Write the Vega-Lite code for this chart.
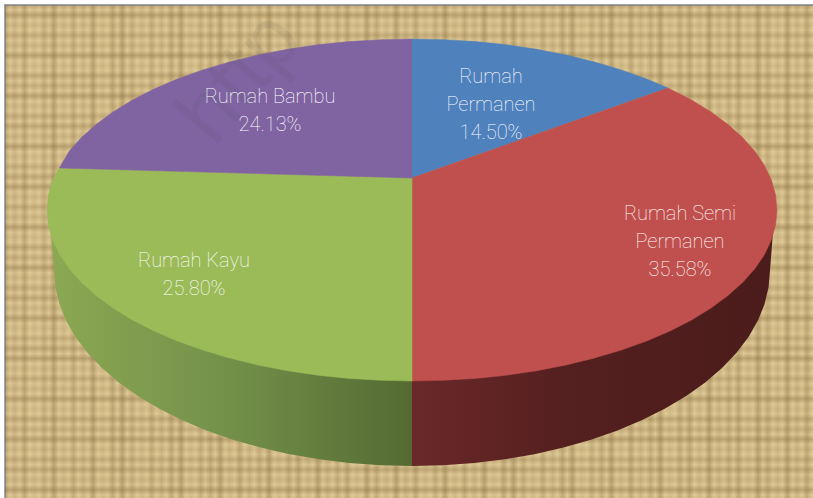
{"$schema":"https://vega.github.io/schema/vega-lite/v6.json","width":813,"height":498,"padding":0,"autosize":{"type":"fit","contains":"padding"},"background":"#ffffff","view":{"stroke":null},
"datasets":{
"frame":[{"x":5,"x2":820,"y":5,"y2":510}],
"mark":[{"label":"http","x":240,"y":78}],
"shares":[{"label":"Rumah\nPermanen\n14.50%","share":14.5,"x":491,"y":77},{"label":"Rumah Semi\nPermanen\n35.58%","share":35.58,"x":680,"y":214},{"label":"Rumah Kayu\n25.80%","share":25.8,"x":194,"y":261},{"label":"Rumah Bambu\n24.13%","share":24.13,"x":270,"y":97}],
"wallGreen":[{"i":0,"x":412,"y":300},{"i":1,"x":412,"y":466},{"i":2,"x":380.9,"y":465.2},{"i":3,"x":349.7,"y":463},{"i":4,"x":319.3,"y":459.3},{"i":5,"x":289.6,"y":454.2},{"i":6,"x":260.6,"y":447.6},{"i":7,"x":233,"y":439.7},{"i":8,"x":206.5,"y":430.5},{"i":9,"x":181.8,"y":420.1},{"i":10,"x":158.9,"y":408.6},{"i":11,"x":137.8,"y":396},{"i":12,"x":118.8,"y":382.5},{"i":13,"x":102,"y":368},{"i":14,"x":87.7,"y":352.9},{"i":15,"x":75.5,"y":337},{"i":16,"x":66.2,"y":320.8},{"i":17,"x":59.4,"y":304.1},{"i":18,"x":55.4,"y":287.1},{"i":19,"x":54,"y":270},{"i":20,"x":51,"y":232}],
"wallRed":[{"i":0,"x":412,"y":300},{"i":1,"x":773,"y":232},{"i":2,"x":770,"y":270},{"i":3,"x":768.6,"y":287.1},{"i":4,"x":764.6,"y":304.1},{"i":5,"x":757.8,"y":320.8},{"i":6,"x":748.5,"y":337},{"i":7,"x":736.3,"y":352.9},{"i":8,"x":722,"y":368},{"i":9,"x":705.2,"y":382.5},{"i":10,"x":686.2,"y":396},{"i":11,"x":665.1,"y":408.6},{"i":12,"x":642.2,"y":420.1},{"i":13,"x":617.5,"y":430.5},{"i":14,"x":591,"y":439.7},{"i":15,"x":563.4,"y":447.6},{"i":16,"x":534.4,"y":454.2},{"i":17,"x":504.7,"y":459.3},{"i":18,"x":474.3,"y":463},{"i":19,"x":443.1,"y":465.2},{"i":20,"x":412,"y":466}],
"slices":[
{"s":"Rumah Permanen","i":0,"x":412,"y":178},{"s":"Rumah Permanen","i":1,"x":412,"y":39},{"s":"Rumah Permanen","i":2,"x":443.8,"y":39.7},{"s":"Rumah Permanen","i":3,"x":475.4,"y":41.6},{"s":"Rumah Permanen","i":4,"x":506.5,"y":44.8},{"s":"Rumah Permanen","i":5,"x":536.8,"y":49.3},{"s":"Rumah Permanen","i":6,"x":566.3,"y":55},{"s":"Rumah Permanen","i":7,"x":594.5,"y":62},{"s":"Rumah Permanen","i":8,"x":621.4,"y":69.9},{"s":"Rumah Permanen","i":9,"x":646.7,"y":79},{"s":"Rumah Permanen","i":10,"x":668,"y":88},
{"s":"Rumah Semi Permanen","i":0,"x":412,"y":178},{"s":"Rumah Semi Permanen","i":1,"x":668,"y":88},{"s":"Rumah Semi Permanen","i":2,"x":691.6,"y":100},{"s":"Rumah Semi Permanen","i":3,"x":711,"y":111.9},{"s":"Rumah Semi Permanen","i":4,"x":728,"y":124.5},{"s":"Rumah Semi Permanen","i":5,"x":742.8,"y":137.7},{"s":"Rumah Semi Permanen","i":6,"x":755,"y":151.5},{"s":"Rumah Semi Permanen","i":7,"x":764.6,"y":165.7},{"s":"Rumah Semi Permanen","i":8,"x":771.5,"y":180.3},{"s":"Rumah Semi Permanen","i":9,"x":775.6,"y":195.1},{"s":"Rumah Semi Permanen","i":10,"x":777,"y":210},{"s":"Rumah Semi Permanen","i":11,"x":775.6,"y":224.9},{"s":"Rumah Semi Permanen","i":12,"x":771.5,"y":239.7},{"s":"Rumah Semi Permanen","i":13,"x":764.6,"y":254.3},{"s":"Rumah Semi Permanen","i":14,"x":755,"y":268.5},{"s":"Rumah Semi Permanen","i":15,"x":742.8,"y":282.3},{"s":"Rumah Semi Permanen","i":16,"x":728,"y":295.5},{"s":"Rumah Semi Permanen","i":17,"x":711,"y":308.1},{"s":"Rumah Semi Permanen","i":18,"x":691.6,"y":320},{"s":"Rumah Semi Permanen","i":19,"x":670.1,"y":330.9},{"s":"Rumah Semi Permanen","i":20,"x":646.7,"y":341},{"s":"Rumah Semi Permanen","i":21,"x":621.4,"y":350.1},{"s":"Rumah Semi Permanen","i":22,"x":594.5,"y":358},{"s":"Rumah Semi Permanen","i":23,"x":566.3,"y":365},{"s":"Rumah Semi Permanen","i":24,"x":536.8,"y":370.7},{"s":"Rumah Semi Permanen","i":25,"x":506.5,"y":375.2},{"s":"Rumah Semi Permanen","i":26,"x":475.4,"y":378.4},{"s":"Rumah Semi Permanen","i":27,"x":443.8,"y":380.3},{"s":"Rumah Semi Permanen","i":28,"x":412,"y":381},
{"s":"Rumah Kayu","i":0,"x":412,"y":178},{"s":"Rumah Kayu","i":1,"x":412,"y":381},{"s":"Rumah Kayu","i":2,"x":380.2,"y":380.3},{"s":"Rumah Kayu","i":3,"x":348.6,"y":378.4},{"s":"Rumah Kayu","i":4,"x":317.5,"y":375.2},{"s":"Rumah Kayu","i":5,"x":287.2,"y":370.7},{"s":"Rumah Kayu","i":6,"x":257.7,"y":365},{"s":"Rumah Kayu","i":7,"x":229.5,"y":358},{"s":"Rumah Kayu","i":8,"x":202.6,"y":350.1},{"s":"Rumah Kayu","i":9,"x":177.3,"y":341},{"s":"Rumah Kayu","i":10,"x":153.9,"y":330.9},{"s":"Rumah Kayu","i":11,"x":132.4,"y":320},{"s":"Rumah Kayu","i":12,"x":113,"y":308.1},{"s":"Rumah Kayu","i":13,"x":96,"y":295.5},{"s":"Rumah Kayu","i":14,"x":81.2,"y":282.3},{"s":"Rumah Kayu","i":15,"x":69,"y":268.5},{"s":"Rumah Kayu","i":16,"x":59.4,"y":254.3},{"s":"Rumah Kayu","i":17,"x":52.5,"y":239.7},{"s":"Rumah Kayu","i":18,"x":48.4,"y":224.9},{"s":"Rumah Kayu","i":19,"x":47,"y":210},{"s":"Rumah Kayu","i":20,"x":48.4,"y":195.1},{"s":"Rumah Kayu","i":21,"x":52.5,"y":180.3},{"s":"Rumah Kayu","i":22,"x":59.4,"y":168},
{"s":"Rumah Bambu","i":0,"x":412,"y":178},{"s":"Rumah Bambu","i":1,"x":59.4,"y":168},{"s":"Rumah Bambu","i":2,"x":69,"y":151.5},{"s":"Rumah Bambu","i":3,"x":81.2,"y":137.7},{"s":"Rumah Bambu","i":4,"x":96,"y":124.5},{"s":"Rumah Bambu","i":5,"x":113,"y":111.9},{"s":"Rumah Bambu","i":6,"x":132.4,"y":100},{"s":"Rumah Bambu","i":7,"x":153.9,"y":89.1},{"s":"Rumah Bambu","i":8,"x":177.3,"y":79},{"s":"Rumah Bambu","i":9,"x":202.6,"y":69.9},{"s":"Rumah Bambu","i":10,"x":229.5,"y":62},{"s":"Rumah Bambu","i":11,"x":257.7,"y":55},{"s":"Rumah Bambu","i":12,"x":287.2,"y":49.3},{"s":"Rumah Bambu","i":13,"x":317.5,"y":44.8},{"s":"Rumah Bambu","i":14,"x":348.6,"y":41.6},{"s":"Rumah Bambu","i":15,"x":380.2,"y":39.7},{"s":"Rumah Bambu","i":16,"x":412,"y":39}
]},
"encoding":{
"x":{"field":"x","type":"quantitative","axis":null,"scale":{"domain":[0,813],"nice":false,"zero":false}},
"y":{"field":"y","type":"quantitative","axis":null,"scale":{"domain":[498,0],"nice":false,"zero":false}}
},
"layer":[
{"data":{"name":"frame"},"mark":{"type":"rect","clip":true,"fill":"#e0ca96","stroke":"#a0a4a8","strokeWidth":2},"encoding":{"x2":{"field":"x2"},"y2":{"field":"y2"}}},
{"data":{"name":"frame"},"mark":{"type":"rect","clip":true,"fill":{"gradient":"linear","x1":0,"x2":1,"y1":0,"y2":0,"stops":[
{"offset":0,"color":"#6b4f224d"},{"offset":0.006,"color":"#6b4f2200"},{"offset":0.012,"color":"#6b4f2226"},{"offset":0.018,"color":"#6b4f2200"},{"offset":0.024,"color":"#6b4f2240"},{"offset":0.03,"color":"#6b4f2200"},{"offset":0.036,"color":"#6b4f221a"},{"offset":0.042,"color":"#6b4f2200"},
{"offset":0.048,"color":"#6b4f2233"},{"offset":0.054,"color":"#6b4f2200"},{"offset":0.06,"color":"#6b4f224d"},{"offset":0.066,"color":"#6b4f2200"},{"offset":0.072,"color":"#6b4f221f"},{"offset":0.078,"color":"#6b4f2200"},{"offset":0.084,"color":"#6b4f2238"},{"offset":0.09,"color":"#6b4f2200"},
{"offset":0.096,"color":"#6b4f2226"},{"offset":0.102,"color":"#6b4f2200"},{"offset":0.108,"color":"#6b4f224d"},{"offset":0.114,"color":"#6b4f2200"},{"offset":0.12,"color":"#6b4f221a"},{"offset":0.126,"color":"#6b4f2200"},{"offset":0.132,"color":"#6b4f2240"},{"offset":0.138,"color":"#6b4f2200"},
{"offset":0.144,"color":"#6b4f224d"},{"offset":0.15,"color":"#6b4f2200"},{"offset":0.156,"color":"#6b4f2233"},{"offset":0.162,"color":"#6b4f2200"},{"offset":0.168,"color":"#6b4f221f"},{"offset":0.174,"color":"#6b4f2200"},{"offset":0.18,"color":"#6b4f2238"},{"offset":0.186,"color":"#6b4f2200"},
{"offset":0.192,"color":"#6b4f2226"},{"offset":0.198,"color":"#6b4f2200"},{"offset":0.204,"color":"#6b4f2240"},{"offset":0.21,"color":"#6b4f2200"},{"offset":0.216,"color":"#6b4f224d"},{"offset":0.222,"color":"#6b4f2200"},{"offset":0.228,"color":"#6b4f221a"},{"offset":0.234,"color":"#6b4f2200"},
{"offset":0.24,"color":"#6b4f2233"},{"offset":0.246,"color":"#6b4f2200"},{"offset":0.252,"color":"#6b4f2238"},{"offset":0.258,"color":"#6b4f2200"},{"offset":0.264,"color":"#6b4f224d"},{"offset":0.27,"color":"#6b4f2200"},{"offset":0.276,"color":"#6b4f221f"},{"offset":0.282,"color":"#6b4f2200"},
{"offset":0.288,"color":"#6b4f2240"},{"offset":0.294,"color":"#6b4f2200"},{"offset":0.3,"color":"#6b4f2226"},{"offset":0.306,"color":"#6b4f2200"},{"offset":0.312,"color":"#6b4f2233"},{"offset":0.318,"color":"#6b4f2200"},{"offset":0.324,"color":"#6b4f224d"},{"offset":0.33,"color":"#6b4f2200"},
{"offset":0.336,"color":"#6b4f221a"},{"offset":0.342,"color":"#6b4f2200"},{"offset":0.348,"color":"#6b4f2238"},{"offset":0.354,"color":"#6b4f2200"},{"offset":0.36,"color":"#6b4f2240"},{"offset":0.366,"color":"#6b4f2200"},{"offset":0.372,"color":"#6b4f221f"},{"offset":0.378,"color":"#6b4f2200"},
{"offset":0.384,"color":"#6b4f224d"},{"offset":0.39,"color":"#6b4f2200"},{"offset":0.396,"color":"#6b4f2226"},{"offset":0.402,"color":"#6b4f2200"},{"offset":0.408,"color":"#6b4f2233"},{"offset":0.414,"color":"#6b4f2200"},{"offset":0.42,"color":"#6b4f2240"},{"offset":0.426,"color":"#6b4f2200"},
{"offset":0.432,"color":"#6b4f221a"},{"offset":0.438,"color":"#6b4f2200"},{"offset":0.444,"color":"#6b4f224d"},{"offset":0.45,"color":"#6b4f2200"},{"offset":0.456,"color":"#6b4f2238"},{"offset":0.462,"color":"#6b4f2200"},{"offset":0.468,"color":"#6b4f221f"},{"offset":0.474,"color":"#6b4f2200"},
{"offset":0.48,"color":"#6b4f224d"},{"offset":0.486,"color":"#6b4f2200"},{"offset":0.492,"color":"#6b4f2226"},{"offset":0.498,"color":"#6b4f2200"},{"offset":0.504,"color":"#6b4f2240"},{"offset":0.51,"color":"#6b4f2200"},{"offset":0.516,"color":"#6b4f221a"},{"offset":0.522,"color":"#6b4f2200"},
{"offset":0.528,"color":"#6b4f2233"},{"offset":0.534,"color":"#6b4f2200"},{"offset":0.54,"color":"#6b4f224d"},{"offset":0.546,"color":"#6b4f2200"},{"offset":0.552,"color":"#6b4f221f"},{"offset":0.558,"color":"#6b4f2200"},{"offset":0.564,"color":"#6b4f2238"},{"offset":0.57,"color":"#6b4f2200"},
{"offset":0.576,"color":"#6b4f2226"},{"offset":0.582,"color":"#6b4f2200"},{"offset":0.588,"color":"#6b4f224d"},{"offset":0.594,"color":"#6b4f2200"},{"offset":0.6,"color":"#6b4f221a"},{"offset":0.606,"color":"#6b4f2200"},{"offset":0.612,"color":"#6b4f2240"},{"offset":0.618,"color":"#6b4f2200"},
{"offset":0.624,"color":"#6b4f224d"},{"offset":0.63,"color":"#6b4f2200"},{"offset":0.636,"color":"#6b4f2233"},{"offset":0.642,"color":"#6b4f2200"},{"offset":0.648,"color":"#6b4f221f"},{"offset":0.654,"color":"#6b4f2200"},{"offset":0.66,"color":"#6b4f2238"},{"offset":0.666,"color":"#6b4f2200"},
{"offset":0.672,"color":"#6b4f2226"},{"offset":0.678,"color":"#6b4f2200"},{"offset":0.684,"color":"#6b4f2240"},{"offset":0.69,"color":"#6b4f2200"},{"offset":0.696,"color":"#6b4f224d"},{"offset":0.702,"color":"#6b4f2200"},{"offset":0.708,"color":"#6b4f221a"},{"offset":0.714,"color":"#6b4f2200"},
{"offset":0.72,"color":"#6b4f2233"},{"offset":0.726,"color":"#6b4f2200"},{"offset":0.732,"color":"#6b4f2238"},{"offset":0.738,"color":"#6b4f2200"},{"offset":0.744,"color":"#6b4f224d"},{"offset":0.75,"color":"#6b4f2200"},{"offset":0.756,"color":"#6b4f221f"},{"offset":0.762,"color":"#6b4f2200"},
{"offset":0.768,"color":"#6b4f2240"},{"offset":0.774,"color":"#6b4f2200"},{"offset":0.78,"color":"#6b4f2226"},{"offset":0.786,"color":"#6b4f2200"},{"offset":0.792,"color":"#6b4f2233"},{"offset":0.798,"color":"#6b4f2200"},{"offset":0.804,"color":"#6b4f224d"},{"offset":0.81,"color":"#6b4f2200"},
{"offset":0.816,"color":"#6b4f221a"},{"offset":0.822,"color":"#6b4f2200"},{"offset":0.828,"color":"#6b4f2238"},{"offset":0.834,"color":"#6b4f2200"},{"offset":0.84,"color":"#6b4f2240"},{"offset":0.846,"color":"#6b4f2200"},{"offset":0.852,"color":"#6b4f221f"},{"offset":0.858,"color":"#6b4f2200"},
{"offset":0.864,"color":"#6b4f224d"},{"offset":0.87,"color":"#6b4f2200"},{"offset":0.876,"color":"#6b4f2226"},{"offset":0.882,"color":"#6b4f2200"},{"offset":0.888,"color":"#6b4f2233"},{"offset":0.894,"color":"#6b4f2200"},{"offset":0.9,"color":"#6b4f2240"},{"offset":0.906,"color":"#6b4f2200"},
{"offset":0.912,"color":"#6b4f221a"},{"offset":0.918,"color":"#6b4f2200"},{"offset":0.924,"color":"#6b4f224d"},{"offset":0.93,"color":"#6b4f2200"},{"offset":0.936,"color":"#6b4f2238"},{"offset":0.942,"color":"#6b4f2200"},{"offset":0.948,"color":"#6b4f221f"},{"offset":0.954,"color":"#6b4f2200"},
{"offset":0.96,"color":"#6b4f224d"},{"offset":0.966,"color":"#6b4f2200"},{"offset":0.972,"color":"#6b4f2226"},{"offset":0.978,"color":"#6b4f2200"},{"offset":0.984,"color":"#6b4f2240"},{"offset":0.99,"color":"#6b4f2200"},{"offset":1,"color":"#6b4f2233"}
]},"stroke":null},"encoding":{"x2":{"field":"x2"},"y2":{"field":"y2"}}},
{"data":{"name":"frame"},"mark":{"type":"rect","clip":true,"fill":{"gradient":"linear","x1":0,"x2":0,"y1":0,"y2":1,"stops":[
{"offset":0,"color":"#6b4f2240"},{"offset":0.01,"color":"#6b4f2200"},{"offset":0.02,"color":"#6b4f224d"},{"offset":0.03,"color":"#6b4f2200"},{"offset":0.04,"color":"#6b4f221f"},{"offset":0.05,"color":"#6b4f2200"},{"offset":0.06,"color":"#6b4f2238"},{"offset":0.07,"color":"#6b4f2200"},
{"offset":0.08,"color":"#6b4f2226"},{"offset":0.09,"color":"#6b4f2200"},{"offset":0.1,"color":"#6b4f224d"},{"offset":0.11,"color":"#6b4f2200"},{"offset":0.12,"color":"#6b4f221a"},{"offset":0.13,"color":"#6b4f2200"},{"offset":0.14,"color":"#6b4f2240"},{"offset":0.15,"color":"#6b4f2200"},
{"offset":0.16,"color":"#6b4f2233"},{"offset":0.17,"color":"#6b4f2200"},{"offset":0.18,"color":"#6b4f224d"},{"offset":0.19,"color":"#6b4f2200"},{"offset":0.2,"color":"#6b4f221f"},{"offset":0.21,"color":"#6b4f2200"},{"offset":0.22,"color":"#6b4f2238"},{"offset":0.23,"color":"#6b4f2200"},
{"offset":0.24,"color":"#6b4f2240"},{"offset":0.25,"color":"#6b4f2200"},{"offset":0.26,"color":"#6b4f2226"},{"offset":0.27,"color":"#6b4f2200"},{"offset":0.28,"color":"#6b4f224d"},{"offset":0.29,"color":"#6b4f2200"},{"offset":0.3,"color":"#6b4f221a"},{"offset":0.31,"color":"#6b4f2200"},
{"offset":0.32,"color":"#6b4f2233"},{"offset":0.33,"color":"#6b4f2200"},{"offset":0.34,"color":"#6b4f2240"},{"offset":0.35,"color":"#6b4f2200"},{"offset":0.36,"color":"#6b4f224d"},{"offset":0.37,"color":"#6b4f2200"},{"offset":0.38,"color":"#6b4f221f"},{"offset":0.39,"color":"#6b4f2200"},
{"offset":0.4,"color":"#6b4f2238"},{"offset":0.41,"color":"#6b4f2200"},{"offset":0.42,"color":"#6b4f2226"},{"offset":0.43,"color":"#6b4f2200"},{"offset":0.44,"color":"#6b4f224d"},{"offset":0.45,"color":"#6b4f2200"},{"offset":0.46,"color":"#6b4f221a"},{"offset":0.47,"color":"#6b4f2200"},
{"offset":0.48,"color":"#6b4f2240"},{"offset":0.49,"color":"#6b4f2200"},{"offset":0.5,"color":"#6b4f2233"},{"offset":0.51,"color":"#6b4f2200"},{"offset":0.52,"color":"#6b4f224d"},{"offset":0.53,"color":"#6b4f2200"},{"offset":0.54,"color":"#6b4f221f"},{"offset":0.55,"color":"#6b4f2200"},
{"offset":0.56,"color":"#6b4f2238"},{"offset":0.57,"color":"#6b4f2200"},{"offset":0.58,"color":"#6b4f2240"},{"offset":0.59,"color":"#6b4f2200"},{"offset":0.6,"color":"#6b4f2226"},{"offset":0.61,"color":"#6b4f2200"},{"offset":0.62,"color":"#6b4f224d"},{"offset":0.63,"color":"#6b4f2200"},
{"offset":0.64,"color":"#6b4f221a"},{"offset":0.65,"color":"#6b4f2200"},{"offset":0.66,"color":"#6b4f2233"},{"offset":0.67,"color":"#6b4f2200"},{"offset":0.68,"color":"#6b4f2240"},{"offset":0.69,"color":"#6b4f2200"},{"offset":0.7,"color":"#6b4f224d"},{"offset":0.71,"color":"#6b4f2200"},
{"offset":0.72,"color":"#6b4f221f"},{"offset":0.73,"color":"#6b4f2200"},{"offset":0.74,"color":"#6b4f2238"},{"offset":0.75,"color":"#6b4f2200"},{"offset":0.76,"color":"#6b4f2226"},{"offset":0.77,"color":"#6b4f2200"},{"offset":0.78,"color":"#6b4f224d"},{"offset":0.79,"color":"#6b4f2200"},
{"offset":0.8,"color":"#6b4f221a"},{"offset":0.81,"color":"#6b4f2200"},{"offset":0.82,"color":"#6b4f2240"},{"offset":0.83,"color":"#6b4f2200"},{"offset":0.84,"color":"#6b4f2233"},{"offset":0.85,"color":"#6b4f2200"},{"offset":0.86,"color":"#6b4f224d"},{"offset":0.87,"color":"#6b4f2200"},
{"offset":0.88,"color":"#6b4f221f"},{"offset":0.89,"color":"#6b4f2200"},{"offset":0.9,"color":"#6b4f2238"},{"offset":0.91,"color":"#6b4f2200"},{"offset":0.92,"color":"#6b4f2240"},{"offset":0.93,"color":"#6b4f2200"},{"offset":0.94,"color":"#6b4f2226"},{"offset":0.95,"color":"#6b4f2200"},
{"offset":0.96,"color":"#6b4f224d"},{"offset":0.97,"color":"#6b4f2200"},{"offset":0.98,"color":"#6b4f221a"},{"offset":0.99,"color":"#6b4f2200"},{"offset":1,"color":"#6b4f2233"}
]},"stroke":null},"encoding":{"x2":{"field":"x2"},"y2":{"field":"y2"}}},
{"data":{"name":"wallGreen"},"mark":{"type":"line","stroke":null,"fill":{"gradient":"linear","x1":0,"x2":1,"y1":0,"y2":0,"stops":[{"offset":0,"color":"#8ba853"},{"offset":0.5,"color":"#73904a"},{"offset":1,"color":"#546a32"}]}},"encoding":{"order":{"field":"i","type":"quantitative"}}},
{"data":{"name":"wallRed"},"mark":{"type":"line","stroke":null,"fill":{"gradient":"linear","x1":0,"x2":1,"y1":0,"y2":0,"stops":[{"offset":0,"color":"#6a2829"},{"offset":0.45,"color":"#541f1f"},{"offset":1,"color":"#4a1c1b"}]}},"encoding":{"order":{"field":"i","type":"quantitative"}}},
{"data":{"name":"slices"},"mark":{"type":"line","strokeWidth":0.5},"encoding":{"order":{"field":"i","type":"quantitative"},
"fill":{"field":"s","type":"nominal","legend":null,"scale":{"domain":["Rumah Permanen","Rumah Semi Permanen","Rumah Kayu","Rumah Bambu"],"range":["#4f81bd","#c0504d","#9bbb59","#8064a2"]}},
"stroke":{"field":"s","type":"nominal","legend":null,"scale":{"domain":["Rumah Permanen","Rumah Semi Permanen","Rumah Kayu","Rumah Bambu"],"range":["#4f81bd","#c0504d","#9bbb59","#8064a2"]}}}},
{"data":{"name":"mark"},"mark":{"type":"text","clip":true,"font":"Liberation Sans","fontSize":84,"angle":-50,"color":"#444444","opacity":0.09,"align":"center","baseline":"middle"},"encoding":{"text":{"field":"label","type":"nominal"}}},
{"data":{"name":"shares"},"mark":{"type":"text","font":"Roboto","fontWeight":100,"fontSize":20,"lineHeight":28,"lineBreak":"\n","color":"#ffffff","opacity":1,"align":"center","baseline":"middle"},"encoding":{"text":{"field":"label","type":"nominal"}}}
]}
